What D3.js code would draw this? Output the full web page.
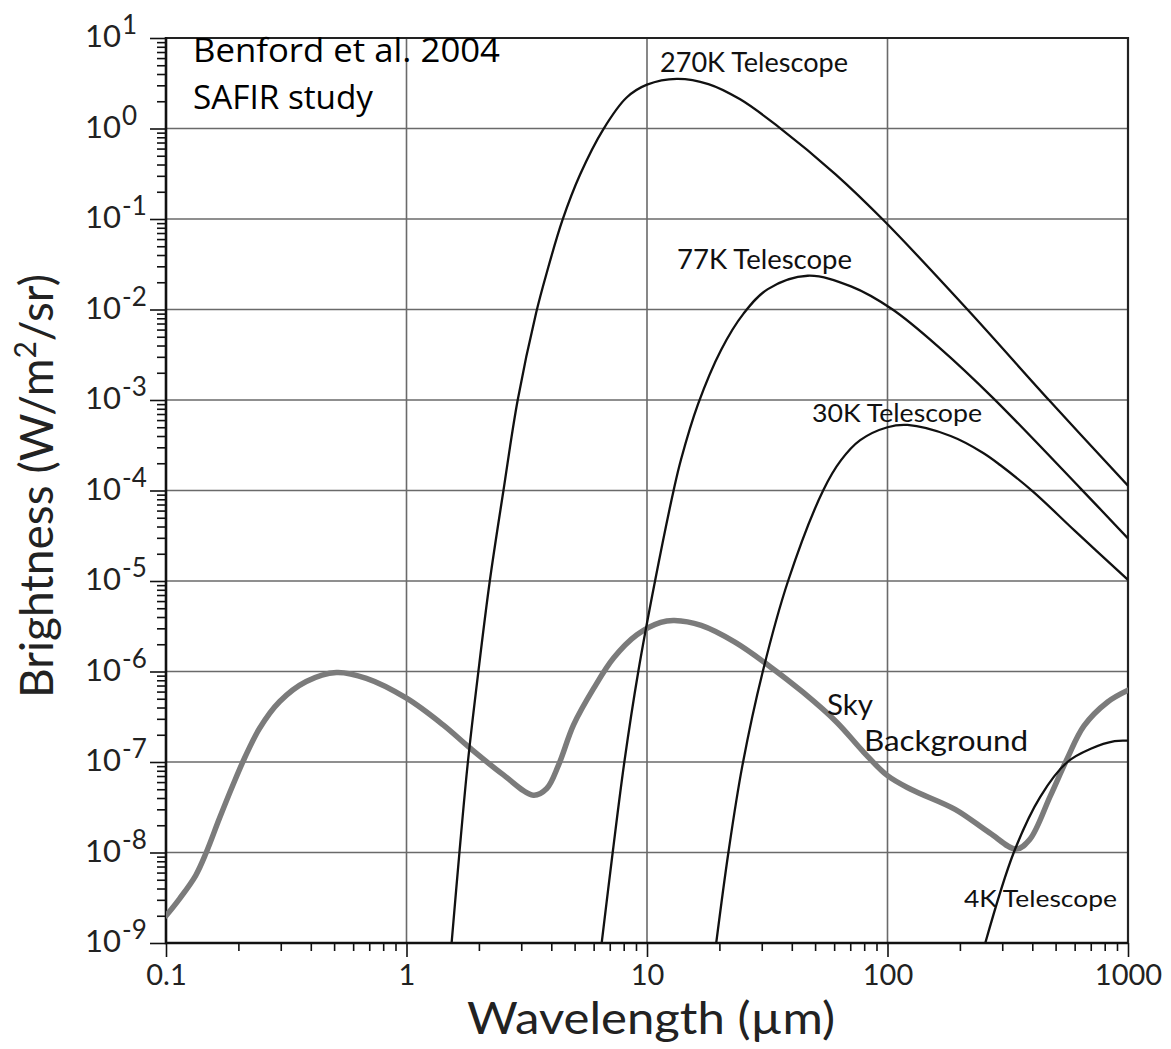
<!DOCTYPE html>
<html>
<head>
<meta charset="utf-8">
<script src="https://cdn.jsdelivr.net/npm/d3@7"></script>
<style>
  html, body { margin: 0; padding: 0; background: #fff; }
  svg { display: block; }
</style>
</head>
<body>
<svg id="chart" width="1171" height="1049"></svg>
<script>
// ---------------- DATA ----------------
// wavelength in micrometres, brightness in W/m^2/sr
const lambda270 = [1.54, 1.66, 1.80, 1.99, 2.22, 2.53, 2.90, 3.46, 3.83, 4.45, 5.27, 6.58, 8.23, 10.0, 13.3, 18.0, 24.4, 35.1, 61, 97, 215, 469, 1000];
const bright270 = [1e-9, 1e-8, 1e-7, 1e-6, 1e-5, 1e-4, 1e-3, 9.2e-3, 0.0255, 0.097, 0.31, 0.98, 2.2, 3.05, 3.54, 3.1, 2.1, 1.05, 0.31, 0.095, 0.01, 1e-3, 1.13e-4];

const lambda77 = [6.48, 7.2, 8.05, 9.2, 10.8, 12.9, 13.85, 16.3, 20.3, 25.2, 31.8, 46.6, 70.5, 105, 166, 275, 640, 1000];
const bright77 = [1e-9, 1e-8, 1e-7, 1e-6, 1e-5, 1e-4, 2.2e-4, 9.0e-4, 3.55e-3, 9.0e-3, 1.68e-2, 2.36e-2, 1.8e-2, 1e-2, 3.7e-3, 1.05e-3, 1.03e-4, 2.96e-5];

const lambda30 = [19.4, 21.8, 24.9, 30.3, 38.6, 54, 64, 77, 100, 121, 183, 250, 295, 405, 600, 1000];
const bright30 = [1e-9, 1e-8, 9e-8, 1e-6, 1e-5, 1e-4, 2.15e-4, 3.6e-4, 5.0e-4, 5.3e-4, 4.0e-4, 2.6e-4, 1.9e-4, 9.6e-5, 3.6e-5, 1.03e-5];

const lambda4 = [255, 335, 431, 560, 700, 880, 1000];
const bright4 = [1e-9, 1e-8, 4.1e-8, 1e-7, 1.4e-7, 1.7e-7, 1.72e-7];

const lambdaSky = [0.1, 0.114, 0.133, 0.147, 0.167, 0.19, 0.212, 0.245, 0.297, 0.383, 0.511, 0.681, 1.0, 1.42, 1.84, 2.53, 3.37, 3.83, 4.29, 4.95, 6.0, 7.26, 9.08, 11.4, 13.0, 16.8, 23.2, 32.1, 44.5, 61.5, 79.7, 100, 125, 191, 265, 343, 391, 475, 558, 656, 823, 1000];
const brightSky = [2.0e-9, 3.1e-9, 5.6e-9, 1.0e-8, 2.4e-8, 5.6e-8, 1.1e-7, 2.36e-7, 4.66e-7, 7.75e-7, 9.75e-7, 8.4e-7, 5.07e-7, 2.57e-7, 1.42e-7, 7.2e-8, 4.3e-8, 5.1e-8, 9.3e-8, 2.57e-7, 6.5e-7, 1.41e-6, 2.55e-6, 3.5e-6, 3.67e-6, 3.23e-6, 2.11e-6, 1.16e-6, 5.9e-7, 2.75e-7, 1.28e-7, 7.06e-8, 5.0e-8, 3.0e-8, 1.66e-8, 1.09e-8, 1.4e-8, 4.2e-8, 1.08e-7, 2.5e-7, 4.6e-7, 6.2e-7];

const xTickValues = [0.1, 1, 10, 100, 1000];
const xTickLabels = ["0.1", "1", "10", "100", "1000"];
const yTickExponents = [1, 0, -1, -2, -3, -4, -5, -6, -7, -8, -9];

const curveLabels = ["270K Telescope", "77K Telescope", "30K Telescope", "Sky", "Background", "4K Telescope"];

// ---------------- CHART ----------------
const svg = d3.select("#chart");
const x = d3.scaleLog().domain([0.1, 1000]).range([166, 1128]);
const y = d3.scaleLog().domain([1e-9, 10]).range([943, 38]);

const tickFont = "Lato, 'DejaVu Sans', sans-serif";

// clip
svg.append("defs").append("clipPath").attr("id", "plotclip")
  .append("rect").attr("x", x(0.1)).attr("y", y(10))
  .attr("width", x(1000) - x(0.1)).attr("height", y(1e-9) - y(10));

// grid
const yDecades = yTickExponents.map(e => Math.pow(10, e));
svg.append("g").selectAll("line").data(yDecades.filter(v => v < 10 && v > 1e-9)).join("line")
  .attr("x1", x(0.1)).attr("x2", x(1000))
  .attr("y1", d => y(d)).attr("y2", d => y(d))
  .attr("stroke", "#6a6a6a").attr("stroke-width", 1.6);
svg.append("g").selectAll("line").data(xTickValues.filter(v => v > 0.1 && v < 1000)).join("line")
  .attr("y1", y(10)).attr("y2", y(1e-9))
  .attr("x1", d => x(d)).attr("x2", d => x(d))
  .attr("stroke", "#6a6a6a").attr("stroke-width", 1.6);

// frame (top and right)
svg.append("path")
  .attr("d", `M${x(0.1)},${y(10)}H${x(1000)}V${y(1e-9)}`)
  .attr("fill", "none").attr("stroke", "#222").attr("stroke-width", 2.2);

// minor tick values
const minorX = [], minorY = [];
for (let k = -1; k < 3; k++) for (let m = 2; m <= 9; m++) minorX.push(m * Math.pow(10, k));
for (let k = -9; k < 1; k++) for (let m = 2; m <= 9; m++) minorY.push(m * Math.pow(10, k));

function styleAxis(g) {
  g.select(".domain").remove();
  g.selectAll(".tick line").attr("stroke", "#111").attr("stroke-width", 1.6);
}

// x axis
svg.append("g").attr("transform", `translate(0,${y(1e-9)})`)
  .call(d3.axisBottom(x).tickValues(minorX).tickSize(8).tickFormat(""))
  .call(styleAxis);
const xMajor = svg.append("g").attr("transform", `translate(0,${y(1e-9)})`)
  .call(d3.axisBottom(x).tickValues(xTickValues).tickSize(14).tickPadding(10)
    .tickFormat((d, i) => xTickLabels[i]))
  .call(styleAxis);
xMajor.selectAll(".tick text")
  .attr("font-family", tickFont).attr("font-size", 29).attr("fill", "#222")
  .attr("dy", null).attr("y", 42);

// y axis
svg.append("g").attr("transform", `translate(${x(0.1)},0)`)
  .call(d3.axisLeft(y).tickValues(minorY).tickSize(9).tickFormat(""))
  .call(styleAxis);
svg.append("g").attr("transform", `translate(${x(0.1)},0)`)
  .call(d3.axisLeft(y).tickValues(yDecades).tickSize(16).tickFormat(""))
  .call(styleAxis);

// y tick labels 10^n
const yl = svg.append("g").selectAll("text").data(yTickExponents).join("text")
  .attr("x", 85).attr("y", d => y(Math.pow(10, d)) + 9)
  .attr("font-family", tickFont).attr("fill", "#222");
yl.append("tspan").attr("font-size", 31).text("10");
yl.append("tspan").attr("font-size", 26).attr("dy", -13).attr("dx", 1).text(d => String(d));

// axis lines
svg.append("path")
  .attr("d", `M${x(0.1)},${y(10) - 1}V${y(1e-9)}H${x(1000)}`)
  .attr("fill", "none").attr("stroke", "#111").attr("stroke-width", 2.6);

// curves
const line = d3.line().x(d => x(d[0])).y(d => y(d[1])).curve(d3.curveCatmullRom.alpha(0.5));
const zip = (a, b) => a.map((v, i) => [v, b[i]]);
const plot = svg.append("g").attr("clip-path", "url(#plotclip)");

plot.append("path").datum(zip(lambdaSky, brightSky)).attr("d", line)
  .attr("fill", "none").attr("stroke", "#7b7b7b").attr("stroke-width", 5.5)
  .attr("stroke-linejoin", "round").attr("stroke-linecap", "round");

[[lambda270, bright270], [lambda77, bright77], [lambda30, bright30], [lambda4, bright4]].forEach(([l, b]) => {
  plot.append("path").datum(zip(l, b)).attr("d", line)
    .attr("fill", "none").attr("stroke", "#111").attr("stroke-width", 2.3);
});

// curve labels
const labFont = "Lato, 'DejaVu Sans', sans-serif";
function label(txt, px, py, fs, len) {
  const t = svg.append("text").attr("x", px).attr("y", py).attr("font-family", labFont)
    .attr("font-size", fs).attr("fill", "#111").text(txt);
  if (len) t.attr("textLength", len).attr("lengthAdjust", "spacingAndGlyphs");
}
label(curveLabels[0], 660, 72, 26, 188);
label(curveLabels[1], 677, 269, 26, 175);
label(curveLabels[2], 812, 422, 25, 170);
label(curveLabels[3], 827, 715, 29, 46);
label(curveLabels[4], 864, 751, 29, 164);
label(curveLabels[5], 964, 907, 24, 153);

// annotation
const annFont = "'Open Sans', 'Liberation Sans', sans-serif";
svg.append("text").attr("x", 193).attr("y", 62).attr("font-family", annFont).attr("font-size", 33)
  .attr("fill", "#000").attr("textLength", 307).attr("lengthAdjust", "spacingAndGlyphs").text("Benford et al. 2004");
svg.append("text").attr("x", 193).attr("y", 109).attr("font-family", annFont).attr("font-size", 33)
  .attr("fill", "#000").attr("textLength", 180).attr("lengthAdjust", "spacingAndGlyphs").text("SAFIR study");

// axis titles
svg.append("text").attr("x", 467).attr("y", 1034)
  .attr("font-family", tickFont).attr("font-size", 44).attr("fill", "#222")
  .attr("textLength", 368).attr("lengthAdjust", "spacingAndGlyphs")
  .text("Wavelength (µm)");
const yt = svg.append("text").attr("transform", "translate(53,486) rotate(-90)")
  .attr("text-anchor", "middle").attr("font-family", tickFont).attr("font-size", 46).attr("fill", "#222");
yt.append("tspan").text("Brightness (W/m");
yt.append("tspan").attr("font-size", 30).attr("dy", -17).text("2");
yt.append("tspan").attr("dy", 17).text("/sr)");
</script>
</body>
</html>
